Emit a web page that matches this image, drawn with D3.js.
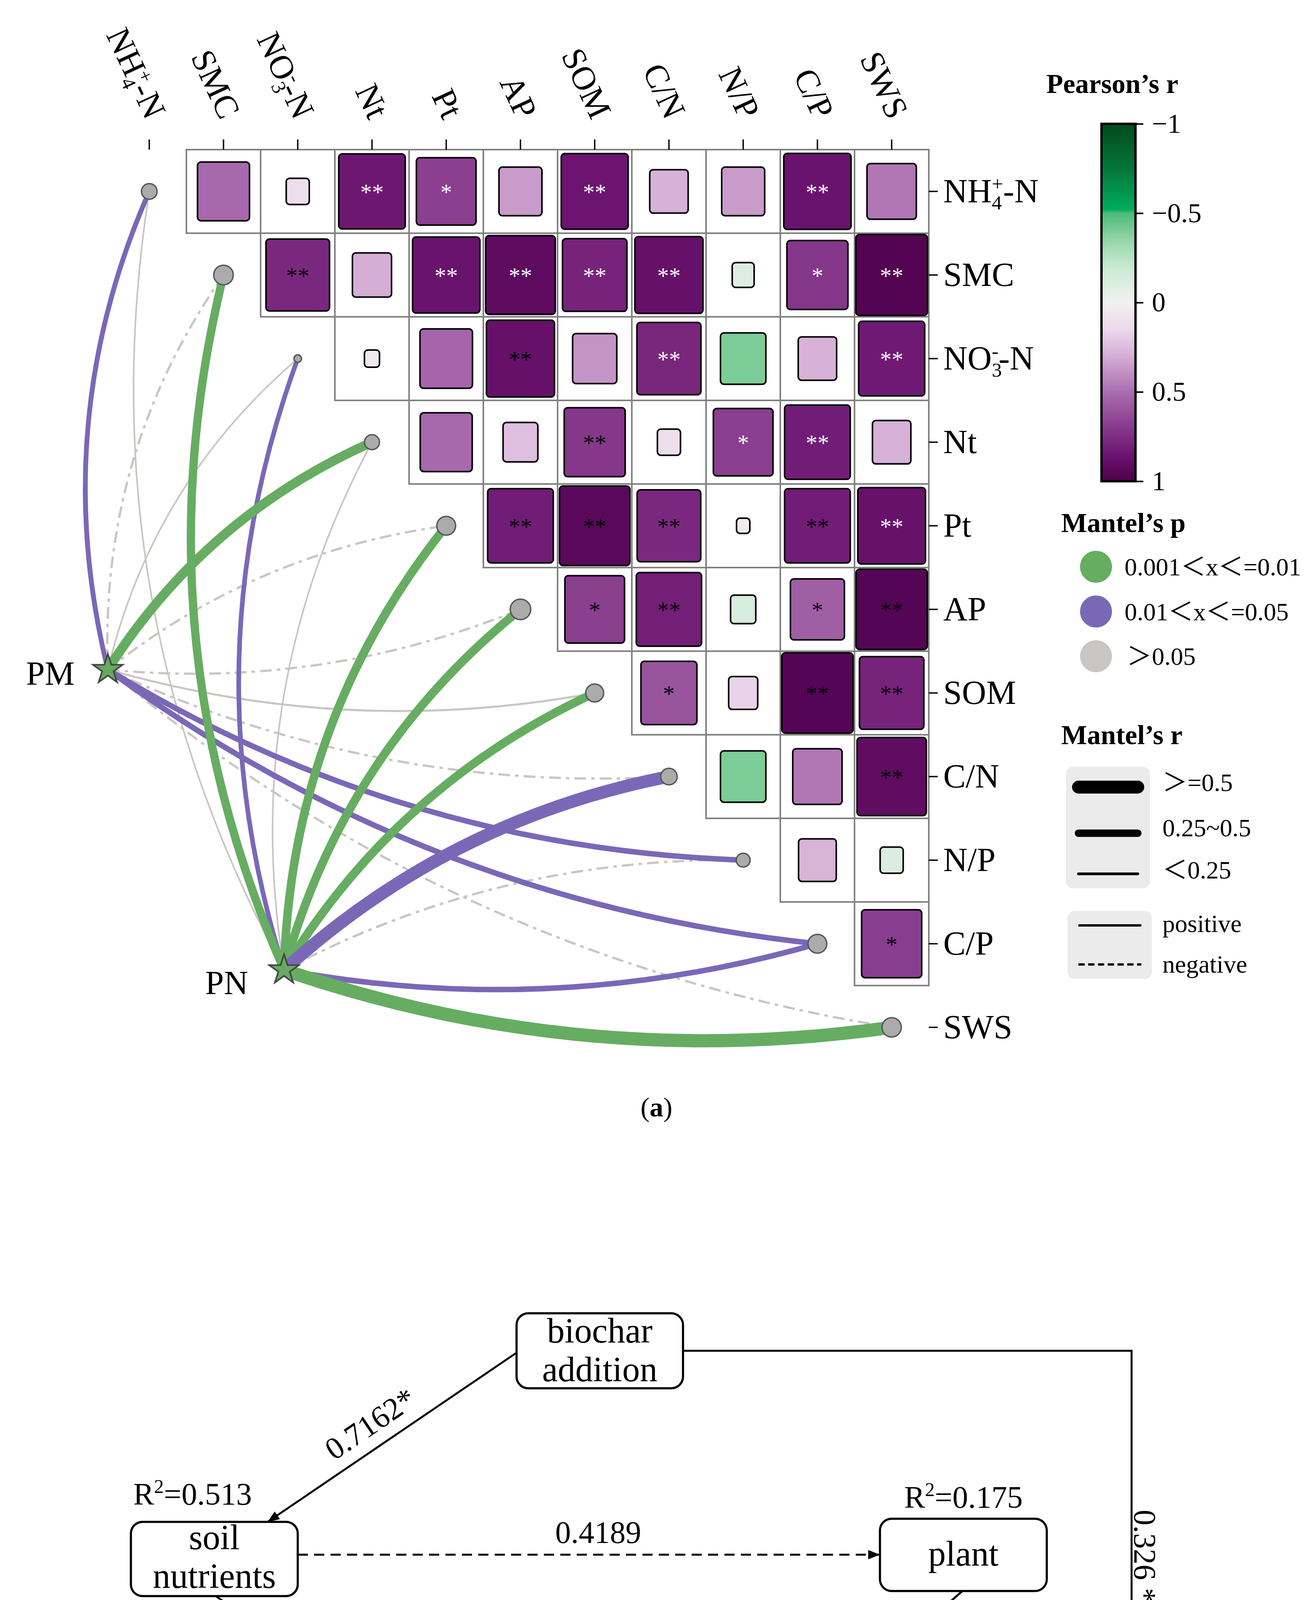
<!DOCTYPE html>
<html>
<head>
<meta charset="utf-8">
<script src="https://cdn.jsdelivr.net/npm/d3@7"></script>
<style>
  body { margin: 0; background: #fff; }
  svg { display: block; }
</style>
</head>
<body>
<div id="chart"></div>
<script>
const W = 3368, H = 5159;
const SERIF = "'Liberation Serif', 'DejaVu Serif', 'Noto Sans CJK SC', serif";
const SANS = "Lato, 'Open Sans', 'Liberation Sans', sans-serif";

// ---------- data (a) ----------
const vars = ["NH4+-N", "SMC", "NO3--N", "Nt", "Pt", "AP", "SOM", "C/N", "N/P", "C/P", "SWS"];

// Pearson's r, upper triangle: row i against columns i+1 .. end
const corrRows = [
  [0.52, 0.11, 0.84, 0.68, 0.36, 0.85, 0.29, 0.36, 0.86, 0.47],
  [0.77, 0.30, 0.86, 0.92, 0.79, 0.88, -0.10, 0.71, 0.97],
  [0.05, 0.53, 0.88, 0.38, 0.78, -0.40, 0.29, 0.83],
  [0.52, 0.24, 0.71, 0.11, 0.68, 0.82, 0.29],
  [0.82, 0.94, 0.77, 0.04, 0.82, 0.87],
  [0.68, 0.81, -0.13, 0.56, 0.96],
  [0.60, 0.17, 0.96, 0.79],
  [-0.40, 0.47, 0.91],
  [0.28, -0.11],
  [0.69]
];
const sigRows = [
  ["", "", "**", "*", "", "**", "", "", "**", ""],
  ["**", "", "**", "**", "**", "**", "", "*", "**"],
  ["", "", "**", "", "**", "", "", "**"],
  ["", "", "**", "", "*", "**", ""],
  ["**", "**", "**", "", "**", "**"],
  ["*", "**", "", "*", "**"],
  ["*", "", "**", "**"],
  ["", "", "**"],
  ["", ""],
  ["*"]
];

// Mantel tests, one value per variable (same order as vars)
const mantelR_PM = [0.19, -0.07, 0.04, 0.40, -0.07, -0.07, 0.06, -0.07, 0.22, 0.22, -0.07];
const mantelP_PM = [0.03, 0.30, 0.40, 0.006, 0.20, 0.30, 0.20, 0.30, 0.03, 0.02, 0.30];
const mantelR_PN = [0.04, 0.35, 0.18, 0.04, 0.36, 0.36, 0.36, 0.55, -0.07, 0.22, 0.58];
const mantelP_PN = [0.40, 0.005, 0.03, 0.30, 0.004, 0.006, 0.005, 0.02, 0.30, 0.03, 0.003];
// size of the grey dots on the diagonal
const nodeScore = [0.51, 0.80, 0.12, 0.47, 0.74, 0.88, 0.67, 0.57, 0.40, 0.74, 0.78];

const cbTicks = [-1, -0.5, 0, 0.5, 1];
const pLabels = ["0.001＜x＜=0.01", "0.01＜x＜=0.05", "＞0.05"];
const pLegendVals = [0.005, 0.03, 0.3];
const rLabels = ["＞=0.5", "0.25~0.5", "＜0.25"];
const rLegendVals = [0.56, 0.31, 0.09];

// ---------- data (b) ----------
const semNodes = ["biochar addition", "soil nutrients", "plant", "Soil Scoring System"];
const semR2 = [null, 0.513, 0.175, 0.975];
const semFrom = ["biochar addition", "soil nutrients", "soil nutrients", "plant", "biochar addition"];
const semTo = ["soil nutrients", "plant", "Soil Scoring System", "Soil Scoring System", "Soil Scoring System"];
const semCoef = ["0.7162", "0.4189", "0.698", "0.0535", "0.326"];
const semSig = ["*", "", " *", " *", " *"];
const goodnessOfFit = 0.4921;

// ---------- svg ----------
const svg = d3.select("#chart").append("svg")
  .attr("width", W).attr("height", H)
  .attr("viewBox", `0 0 ${W} ${H}`);
svg.append("rect").attr("width", W).attr("height", H).attr("fill", "#fff");
const defs = svg.append("defs");

const x = d3.scaleBand().domain(vars).range([287, 2377]);
const y = d3.scaleBand().domain(vars).range([383, 2737]);
const cx = v => x(v) + x.bandwidth() / 2;
const cy = v => y(v) + y.bandwidth() / 2;

const color = d3.scaleLinear()
  .domain([-1, -0.75, -0.52, -0.5, -0.35, -0.2, 0, 0.15, 0.3, 0.5, 0.7, 0.85, 1])
  .range(["#004a1a", "#05763a", "#00ad5f", "#4cbb78", "#94d6a8", "#c8ead1", "#f1f1f1",
          "#edd9ec", "#d5aed6", "#ab6daf", "#873a8c", "#6c1470", "#4d004b"]);
const side = d3.scaleSqrt().domain([0, 1]).range([0, 1]);

// which asterisks are white
const whiteStars = new Set(["0-3", "0-4", "0-6", "0-9", "1-4", "1-5", "1-6", "1-7", "1-9", "1-10",
                            "2-7", "2-10", "3-8", "3-9", "4-10"]);

// label with chemical sub/superscripts
function chemLabel(t, name, fs) {
  const m = name.match(/^(NH|NO)(\d)([+-])-N$/);
  if (!m) { t.text(name); return; }
  const s = fs * 0.6;
  t.append("tspan").text(m[1]);
  t.append("tspan").attr("font-size", s).attr("dy", fs * 0.2).text(m[2]);
  t.append("tspan").attr("font-size", s).attr("dx", -s * 0.5).attr("dy", -fs * 0.55).text(m[3]);
  t.append("tspan").attr("dy", fs * 0.35).text("-N");
}

// ---------- correlation cells ----------
const cells = [];
corrRows.forEach((row, i) => row.forEach((r, k) => {
  const j = i + 1 + k;
  cells.push({ i, j, row: vars[i], col: vars[j], r, sig: sigRows[i][k] });
}));

const gCells = svg.append("g");
gCells.selectAll("rect.bg").data(cells).join("rect")
  .attr("class", "bg")
  .attr("x", d => x(d.col)).attr("y", d => y(d.row))
  .attr("width", x.bandwidth()).attr("height", y.bandwidth())
  .attr("fill", "#fff").attr("stroke", "#808080").attr("stroke-width", 4);

gCells.selectAll("rect.sq").data(cells).join("rect")
  .attr("class", "sq")
  .attr("x", d => cx(d.col) - x.bandwidth() * side(Math.abs(d.r)) / 2 + 2)
  .attr("y", d => cy(d.row) - y.bandwidth() * side(Math.abs(d.r)) / 2 + 2)
  .attr("width", d => x.bandwidth() * side(Math.abs(d.r)) - 4)
  .attr("height", d => y.bandwidth() * side(Math.abs(d.r)) - 4)
  .attr("rx", 9)
  .attr("fill", d => color(d.r))
  .attr("stroke", "#000").attr("stroke-width", 4);

gCells.selectAll("text").data(cells.filter(d => d.sig)).join("text")
  .attr("x", d => cx(d.col)).attr("y", d => cy(d.row) + 22)
  .attr("text-anchor", "middle")
  .attr("font-family", SERIF).attr("font-size", 60)
  .attr("fill", d => whiteStars.has(d.i + "-" + d.j) ? "#fff" : "#000")
  .text(d => d.sig);

// ---------- axes ----------
svg.append("g").attr("transform", "translate(0,383)")
  .call(d3.axisTop(x).tickSize(26).tickFormat(""))
  .call(g => g.select(".domain").remove())
  .call(g => g.selectAll("line").attr("stroke", "#000").attr("stroke-width", 3.5));

svg.append("g").attr("transform", "translate(2377,0)")
  .call(d3.axisRight(y).tickSize(23).tickFormat(""))
  .call(g => g.select(".domain").remove())
  .call(g => g.selectAll("line").attr("stroke", "#000").attr("stroke-width", 3.5));

const FS = 86;
vars.forEach(v => {
  const t = svg.append("text")
    .attr("transform", `translate(${cx(v) - 8},${310}) rotate(65)`)
    .attr("text-anchor", "end")
    .attr("font-family", SERIF).attr("font-size", FS);
  chemLabel(t, v, FS);
  const t2 = svg.append("text")
    .attr("x", 2414).attr("y", cy(v) + FS * 0.33)
    .attr("font-family", SERIF).attr("font-size", FS);
  chemLabel(t2, v, FS);
});

// ---------- mantel links ----------
const pColor = d3.scaleThreshold().domain([0.01, 0.05]).range(["#66ad62", "#7a68b7", "#c9c7c2"]);
const lineW = d3.scaleLinear().domain([0, 0.6]).range([2, 35]).clamp(true);
const nodeR = d3.scaleSqrt().domain([0, 1]).range([0, 28]);

const sources = [
  { name: "PM", x: 276, y: 1714, r: mantelR_PM, p: mantelP_PM, lx: 191, ly: 1753 },
  { name: "PN", x: 727, y: 2483, r: mantelR_PN, p: mantelP_PN, lx: 635, ly: 2545 }
];

const links = [];
sources.forEach(s => vars.forEach((v, i) => {
  links.push({ s, v, r: s.r[i], p: s.p[i] });
}));
links.sort((a, b) => Math.abs(a.r) - Math.abs(b.r));

// curved link, bending outwards; steeper links bend a bit more
function curvePath(x0, y0, x1, y1) {
  const dx = x1 - x0, dy = y1 - y0;
  const a = Math.atan2(dy, dx);
  const sign = a * 180 / Math.PI < -11 ? 1 : -1;
  const k = 0.115 + 0.055 * Math.abs(Math.sin(a));
  const p = d3.path();
  p.moveTo(x0, y0);
  p.quadraticCurveTo((x0 + x1) / 2 + sign * k * dy, (y0 + y1) / 2 - sign * k * dx, x1, y1);
  return p.toString();
}

svg.append("g").attr("fill", "none")
  .selectAll("path").data(links).join("path")
  .attr("d", d => curvePath(d.s.x, d.s.y, cx(d.v), cy(d.v)))
  .attr("stroke", d => pColor(d.p))
  .attr("stroke-width", d => lineW(Math.abs(d.r)))
  .attr("stroke-dasharray", d => d.r < 0 ? "30,13,9,13" : null);

svg.append("g").selectAll("circle").data(vars).join("circle")
  .attr("cx", v => cx(v)).attr("cy", v => cy(v))
  .attr("r", (v, i) => nodeR(nodeScore[i]))
  .attr("fill", "#ababab").attr("stroke", "#555").attr("stroke-width", 3.5);

const star = d3.symbol().type(d3.symbolStar).size(40 * 40 / 0.8908);
svg.append("g").selectAll("path").data(sources).join("path")
  .attr("transform", d => `translate(${d.x},${d.y})`)
  .attr("d", star)
  .attr("fill", "#66aa60").attr("stroke", "#454545").attr("stroke-width", 4);
svg.append("g").selectAll("text").data(sources).join("text")
  .attr("x", d => d.lx).attr("y", d => d.ly)
  .attr("text-anchor", "end").attr("font-family", SERIF).attr("font-size", FS)
  .text(d => d.name);

// ---------- legends ----------
const LG = svg.append("g").attr("font-family", SERIF);
LG.append("text").attr("x", 2678).attr("y", 238).attr("font-size", 70).attr("font-weight", "bold")
  .text("Pearson’s r");

const cbY = d3.scaleLinear().domain([-1, 1]).range([317, 1232]);
const grad = defs.append("linearGradient").attr("id", "cbar")
  .attr("x1", 0).attr("y1", 0).attr("x2", 0).attr("y2", 1);
d3.range(0, 1.0001, 0.01).forEach(t => {
  grad.append("stop").attr("offset", t).attr("stop-color", color(-1 + 2 * t));
});
LG.append("rect").attr("x", 2819).attr("y", 317).attr("width", 87).attr("height", 915)
  .attr("fill", "url(#cbar)").attr("stroke", "#000").attr("stroke-width", 6);
LG.append("g").attr("transform", "translate(2906,0)")
  .call(d3.axisRight(cbY).tickValues(cbTicks).tickSize(20).tickPadding(22)
    .tickFormat(d => (d < 0 ? "−" : "") + Math.abs(d)))
  .call(g => g.select(".domain").remove())
  .call(g => g.selectAll("line").attr("stroke", "#000").attr("stroke-width", 4))
  .call(g => g.selectAll("text").attr("font-family", SERIF).attr("font-size", 70).attr("fill", "#000"));

LG.append("text").attr("x", 2716).attr("y", 1362).attr("font-size", 70).attr("font-weight", "bold")
  .text("Mantel’s p");
const pY = d3.scalePoint().domain(pLabels).range([1451, 1680]);
LG.selectAll("circle.pl").data(pLabels).join("circle").attr("class", "pl")
  .attr("cx", 2805).attr("cy", d => pY(d)).attr("r", 41)
  .attr("fill", (d, i) => pColor(pLegendVals[i]));
LG.selectAll("text.pl").data(pLabels).join("text").attr("class", "pl")
  .attr("x", (d, i) => i === 2 ? 2884 : 2878).attr("y", d => pY(d) + 22)
  .attr("font-size", 64).text(d => d);

LG.append("text").attr("x", 2716).attr("y", 1905).attr("font-size", 70).attr("font-weight", "bold")
  .text("Mantel’s r");
LG.append("rect").attr("x", 2728).attr("y", 1963).attr("width", 215).attr("height", 311)
  .attr("rx", 18).attr("fill", "#ebebeb");
const rLineY = [2015, 2133, 2237];
LG.selectAll("line.rl").data(rLabels).join("line").attr("class", "rl")
  .attr("x1", 2760).attr("x2", 2912)
  .attr("y1", (d, i) => rLineY[i]).attr("y2", (d, i) => rLineY[i])
  .attr("stroke", "#000").attr("stroke-linecap", "round")
  .attr("stroke-width", (d, i) => lineW(rLegendVals[i]));
LG.selectAll("text.rl").data(rLabels).join("text").attr("class", "rl")
  .attr("x", 2975).attr("y", (d, i) => rLineY[i] + [10, 8, 12][i])
  .attr("font-size", 64).text(d => d);

LG.append("rect").attr("x", 2732).attr("y", 2332).attr("width", 216).attr("height", 174)
  .attr("rx", 18).attr("fill", "#ebebeb");
LG.append("line").attr("x1", 2760).attr("x2", 2921).attr("y1", 2369).attr("y2", 2369)
  .attr("stroke", "#000").attr("stroke-width", 6);
LG.append("line").attr("x1", 2760).attr("x2", 2921).attr("y1", 2469).attr("y2", 2469)
  .attr("stroke", "#000").attr("stroke-width", 6).attr("stroke-dasharray", "16,9");
LG.append("text").attr("x", 2975).attr("y", 2386).attr("font-size", 64).text("positive");
LG.append("text").attr("x", 2975).attr("y", 2490).attr("font-size", 64).text("negative");

// (a)
const ta = svg.append("text").attr("x", 1680).attr("y", 2858).attr("text-anchor", "middle")
  .attr("font-family", SERIF).attr("font-size", 70);
ta.append("tspan").text("(");
ta.append("tspan").attr("font-weight", "bold").text("a");
ta.append("tspan").text(")");

// ---------- (b) path model ----------
const boxLayout = {
  "biochar addition":    { x: 1322, y: 3362, w: 426, h: 192, lines: ["biochar", "addition"], base: [3437, 3536] },
  "soil nutrients":      { x: 335, y: 3896, w: 427, h: 190, lines: ["soil", "nutrients"], base: [3966, 4065] },
  "plant":               { x: 2252, y: 3888, w: 427, h: 185, lines: ["plant"], base: [4008] },
  "Soil Scoring System": { x: 1322, y: 4494, w: 551, h: 217, lines: ["Soil Scoring", "System"], base: [4582, 4677] }
};
const r2Pos = [null, { x: 341, y: 3852 }, { x: 2314, y: 3860 }, { x: 1373, y: 4793 }];

defs.append("marker").attr("id", "arr")
  .attr("viewBox", "0 0 10 10").attr("refX", 10).attr("refY", 5)
  .attr("markerUnits", "userSpaceOnUse").attr("markerWidth", 30).attr("markerHeight", 24)
  .attr("orient", "auto").attr("preserveAspectRatio", "none")
  .append("path").attr("d", "M0,0L10,5L0,10Z").attr("fill", "#000");

const B = svg.append("g").attr("font-family", SERIF);

// edge geometry (anchor points on the boxes)
const edgePts = [
  [[1322, 3463], [685, 3896]],
  [[762, 3980], [2252, 3980]],
  [[552, 4086], [1322, 4604]],
  [[2463, 4073], [1878, 4586]],
  [[1748, 3458], [2896, 3458], [2896, 4588], [1876, 4602]]
];
const edgeLabel = [
  { x: 947, y: 3644 }, { x: 1531, y: 3950, flat: true }, { x: 1029, y: 4316 },
  { x: 2069, y: 4297 }, { x: 2903, y: 3865, vertical: true }
];

semFrom.forEach((f, i) => {
  const pts = edgePts[i];
  B.append("path")
    .attr("d", d3.line()(pts))
    .attr("fill", "none").attr("stroke", "#000").attr("stroke-width", 5)
    .attr("stroke-dasharray", semSig[i] === "" ? "26,16" : null)
    .attr("marker-end", "url(#arr)");
  const L = edgeLabel[i];
  const txt = semCoef[i] + semSig[i];
  if (L.flat) {
    B.append("text").attr("x", L.x).attr("y", L.y).attr("text-anchor", "middle")
      .attr("font-size", 80).text(txt);
  } else if (L.vertical) {
    B.append("text").attr("transform", `translate(${L.x},${L.y}) rotate(90)`)
      .attr("font-size", 80).text(txt);
  } else {
    const a = pts[0], b = pts[pts.length - 1];
    let ang = Math.atan2(b[1] - a[1], b[0] - a[0]) * 180 / Math.PI;
    if (ang > 90) ang -= 180;
    if (ang < -90) ang += 180;
    B.append("text").attr("transform", `translate(${L.x},${L.y}) rotate(${ang})`)
      .attr("text-anchor", "middle").attr("dy", "0.35em")
      .attr("font-size", 80).text(txt);
  }
});

semNodes.forEach((n, i) => {
  const b = boxLayout[n];
  B.append("rect").attr("x", b.x).attr("y", b.y).attr("width", b.w).attr("height", b.h)
    .attr("rx", 30).attr("fill", "#fff").attr("stroke", "#000").attr("stroke-width", 5.5);
  b.lines.forEach((l, k) => {
    B.append("text").attr("x", b.x + b.w / 2).attr("y", b.base[k]).attr("text-anchor", "middle")
      .attr("font-size", 90).text(l);
  });
  if (semR2[i] != null) {
    const t = B.append("text").attr("x", r2Pos[i].x).attr("y", r2Pos[i].y).attr("font-size", 80);
    t.append("tspan").text("R");
    t.append("tspan").attr("font-size", 50).attr("dy", -30).text("2");
    t.append("tspan").attr("dy", 30).text("=" + semR2[i].toFixed(3));
  }
});

svg.append("text").attr("x", 1626).attr("y", 4949).attr("text-anchor", "middle")
  .attr("font-family", SANS).attr("font-size", 69)
  .text("GOODNESS-OF-FIT=" + goodnessOfFit);

const tb = svg.append("text").attr("x", 1678).attr("y", 5102).attr("text-anchor", "middle")
  .attr("font-family", SERIF).attr("font-size", 70);
tb.append("tspan").text("(");
tb.append("tspan").attr("font-weight", "bold").text("b");
tb.append("tspan").text(")");
</script>
</body>
</html>
